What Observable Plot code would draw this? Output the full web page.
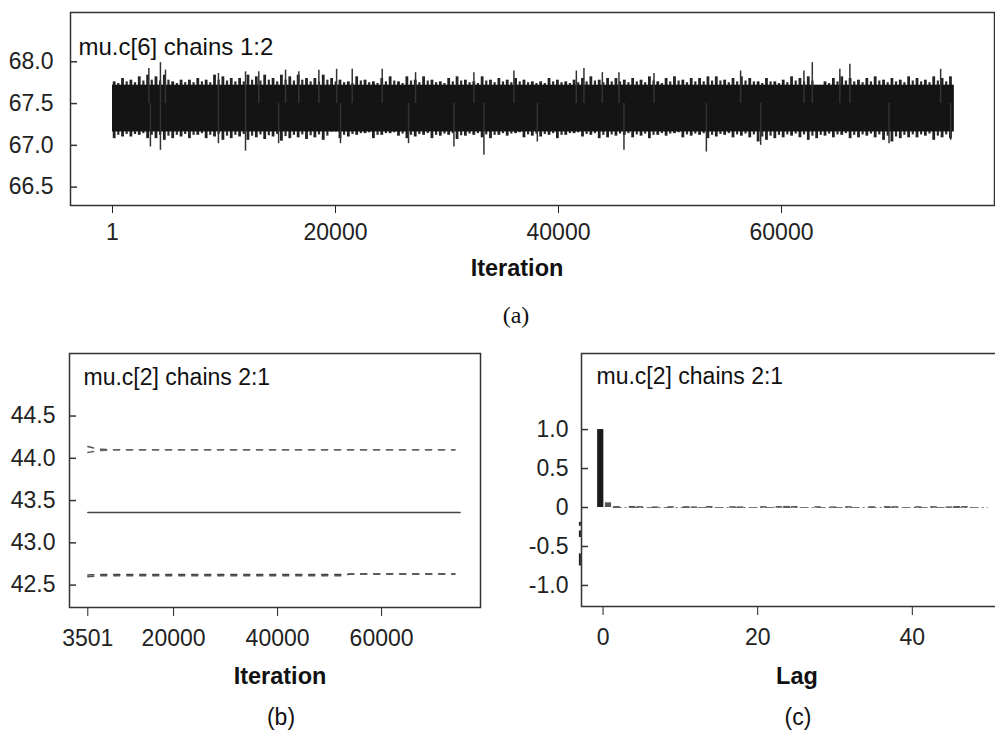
<!DOCTYPE html>
<html><head><meta charset="utf-8">
<script src="https://cdn.jsdelivr.net/npm/d3@7"></script>
<script src="https://cdn.jsdelivr.net/npm/@observablehq/plot@0.6"></script>
<style>
html,body{margin:0;padding:0;background:#fff;overflow:hidden;}
#root{position:relative;width:995px;height:735px;overflow:hidden;font-family:"Liberation Sans",Arial,sans-serif;color:#111;}
.panel{position:absolute;}
.panel svg{max-width:none !important;}
.lbl{position:absolute;transform:translate(-50%,-50%);white-space:nowrap;line-height:1;}
.bold{font-weight:bold;font-size:23.5px;}
.cap{font-size:23px;}
.serif{font-family:"Liberation Serif","DejaVu Serif",serif;font-size:24px;}
</style></head><body><div id="root"></div>
<script>
// ---------------- DATA ----------------
// (a) trace of mu.c[6], chains 1:2 — envelope per bin of 750 iterations
const traceBinStarts = d3.range(0, 75001, 750);
const traceLastIteration = 75500;
const traceUpper = [
  67.76,67.80,67.78,67.82,67.84,67.82,67.84,67.76,67.78,67.78,67.80,67.78,67.84,67.82,67.80,67.80,67.84,67.82,67.84,67.80,67.84,67.82,67.84,67.80,67.80,67.84,
  67.80,67.78,67.76,67.82,67.78,67.76,67.80,67.82,67.76,67.82,67.78,67.82,67.78,67.76,67.80,67.82,67.78,67.76,67.82,67.78,67.80,67.78,67.80,67.78,67.76,
  67.76,67.80,67.78,67.76,67.78,67.80,67.82,67.78,67.80,67.80,67.78,67.80,67.78,67.82,67.76,67.80,67.82,67.78,67.80,67.80,67.82,67.82,67.78,67.80,67.82,67.80,
  67.76,67.80,67.76,67.78,67.82,67.80,67.82,67.70,67.76,67.80,67.82,67.80,67.78,67.80,67.82,67.78,67.80,67.78,67.82,67.80,67.78,67.82,67.80,67.82
];
const traceLower = [
  67.08,67.10,67.10,67.12,67.08,67.08,67.06,67.08,67.10,67.08,67.12,67.08,67.10,67.06,67.08,67.10,67.06,67.09,67.07,67.10,67.05,67.08,67.09,67.07,67.09,67.06,
  67.16,67.08,67.10,67.12,67.14,67.08,67.12,67.14,67.11,67.08,67.10,67.12,67.08,67.11,67.12,67.07,67.11,67.12,67.09,67.08,67.12,67.11,67.14,67.09,67.11,
  67.10,67.12,67.08,67.12,67.14,67.10,67.12,67.08,67.09,67.11,67.12,67.09,67.11,67.08,67.12,67.11,67.14,67.09,67.11,67.12,67.08,67.10,67.12,67.09,67.11,67.09,
  67.04,67.06,67.08,67.09,67.11,67.09,67.06,67.08,67.11,67.09,67.12,67.08,67.09,67.11,67.09,67.06,67.04,67.08,67.09,67.09,67.11,67.06,67.09,67.08
];
// dense core of the trace (solid black region)
const traceCoreLow = 67.16, traceCoreHigh = 67.72;
const spikeUpIter = [3260,4300,4750,9500,11930,13120,15520,16710,18510,20100,21500,24190,27180,32410,36000,41600,42280,43930,45420,48560,56330,62010,62760,65230,66130,74270];
const spikeUpVal  = [67.92,67.99,67.90,67.86,67.88,67.88,67.90,67.88,67.90,67.91,67.91,67.91,67.87,67.87,67.89,67.89,67.92,67.87,67.87,67.86,67.89,67.89,67.99,67.91,67.97,67.91];
const spikeDnIter = [3400,4300,9500,11930,14900,20450,26550,30620,33310,38100,45870,53260,58130,69640,75170];
const spikeDnVal  = [66.98,66.94,67.02,66.93,67.02,67.02,67.02,66.98,66.88,67.04,66.94,66.92,67.00,67.02,67.06];
const aTicksX = [1, 20000, 40000, 60000];
const aTicksY = [66.5, 67.0, 67.5, 68.0];

// (b) quantile traces of mu.c[2], chains 2:1
const bIter       = [3501, 5500, 8000, 52000, 54000, 74100];
const bUpperC1    = [44.14, 44.11, 44.10, 44.10, 44.10, 44.10];
const bUpperC2    = [44.07, 44.09, 44.10, 44.10, 44.10, 44.10];
const bLowerC1    = [42.62, 42.625, 42.625, 42.625, 42.63, 42.63];
const bLowerC2    = [42.60, 42.61, 42.61, 42.61, 42.63, 42.63];
const bMedianIter = [3501, 75100];
const bMedian     = [43.36, 43.36];
const bTicksX = [3501, 20000, 40000, 60000];
const bTicksY = [42.5, 43.0, 43.5, 44.0, 44.5];

// (c) autocorrelation of mu.c[2], chains 2:1, lags 0..50
const cLags = d3.range(0, 51);
const cAcf = [1.0, 0.06, 0.004, 0.0, 0.006, 0.003, 0.0, -0.003, 0.0, 0.002,
  0.0, 0.003, -0.002, 0.0, 0.005, 0.0, 0.0, 0.002, -0.003, 0.0,
  0.0, 0.003, 0.0, 0.004, 0.006, 0.005, 0.0, 0.0, 0.002, 0.0,
  -0.002, 0.0, 0.003, 0.0, 0.0, 0.002, 0.0, 0.004, 0.003, 0.0,
  0.0, 0.002, 0.0, 0.003, 0.0, -0.002, 0.005, 0.004, 0.0, 0.0, 0.0];
const cLeftMarks = [[-0.19, -0.24], [-0.30, -0.385], [-0.595, -0.75]];
const cTicksX = [0, 20, 40];
const cTicksY = [-1.0, -0.5, 0, 0.5, 1.0];

const titleA = "mu.c[6] chains 1:2";
const titleB = "mu.c[2] chains 2:1";
const titleC = "mu.c[2] chains 2:1";

// ---------------- DRAW ----------------
const FONT = '"Liberation Sans", Arial, sans-serif';
const root = document.getElementById("root");
function place(node, left, top, w, h) {
  const d = document.createElement("div");
  d.className = "panel"; d.style.left = left + "px"; d.style.top = top + "px";
  d.style.width = w + "px"; d.style.height = h + "px";
  node.style.maxWidth = "none";
  d.appendChild(node); root.appendChild(d);
}
function label(text, cx, cy, cls) {
  const d = document.createElement("div");
  d.className = "lbl " + cls; d.textContent = text;
  d.style.left = cx + "px"; d.style.top = cy + "px"; root.appendChild(d);
}
// inward tick end, in data units, from a pixel length
function inward(domain, plotWidth, px) { return domain[0] + (domain[1] - domain[0]) * px / plotWidth; }
const baseStyle = {fontFamily: FONT, fontSize: "23px", color: "#222", background: "transparent", overflow: "visible", maxWidth: "none"};
const fmt1 = d => d === 0 ? "0" : d.toFixed(1).replace("\u2212", "-");

// ---- (a)
{
  const W = 995, H = 245, mL = 70, mR = 1, mT = 12, mB = 40;
  const xd = [-3766, 79100], yd = [66.28, 68.59];
  const bins = traceBinStarts.map((s, i) => ({s, lo: traceLower[i], hi: traceUpper[i]}));
  const ups = spikeUpIter.map((x, i) => ({x, v: spikeUpVal[i]}));
  const dns = spikeDnIter.map((x, i) => ({x, v: spikeDnVal[i]}));
  const p = Plot.plot({
    width: W, height: H, marginLeft: mL, marginRight: mR, marginTop: mT, marginBottom: mB,
    style: baseStyle,
    x: {domain: xd, ticks: aTicksX, tickFormat: d => String(d), tickSize: 8, tickPadding: 10, label: null},
    y: {domain: yd, ticks: aTicksY, tickFormat: d => d.toFixed(1), tickSize: 0, tickPadding: 17, label: null},
    marks: [
      // fringe: per-bin extremes as thin vertical strokes
      Plot.ruleX(bins, {x: d => d.s + 150, y1: "lo", y2: "hi", stroke: "#222", strokeWidth: 2.8}),
      Plot.ruleX(bins.slice(0, -1), {x: d => d.s + 520, y1: d => (d.lo + traceCoreLow) / 2, y2: d => (d.hi + traceCoreHigh) / 2, stroke: "#2a2a2a", strokeWidth: 2.2}),
      // dense core
      Plot.rect([{x1: traceBinStarts[0], x2: traceLastIteration}], {x1: "x1", x2: "x2", y1: traceCoreLow, y2: traceCoreHigh, fill: "#141414"}),
      Plot.ruleX(ups, {x: "x", y1: 67.5, y2: "v", stroke: "#333", strokeWidth: 1.5}),
      Plot.ruleX(dns, {x: "x", y1: 67.5, y2: "v", stroke: "#333", strokeWidth: 1.5}),
      Plot.ruleY(aTicksY, {x1: xd[0], x2: inward(xd, W - mL - mR, 7), stroke: "#333", strokeWidth: 1.5}),
      Plot.frame({stroke: "#333", strokeWidth: 1.5}),
      Plot.text([titleA], {frameAnchor: "top-left", textAnchor: "start", lineAnchor: "middle", dx: 8, dy: 35, fontSize: 24, fill: "#111"})
    ]
  });
  place(p, 0, 0, W, H);
  label("Iteration", 517, 269, "bold");
  label("(a)", 516, 315, "serif");
}

// ---- (b)
{
  const W = 500, H = 310, mL = 69, mR = 20, mT = 23, mB = 33;
  const xd = [-18, 79020], yd = [42.235, 45.24];
  const mk = arr => bIter.map((x, i) => ({x, v: arr[i]}));
  const p = Plot.plot({
    width: W, height: H, marginLeft: mL, marginRight: mR, marginTop: mT, marginBottom: mB,
    style: baseStyle,
    x: {domain: xd, ticks: bTicksX, tickFormat: d => String(d), tickSize: 9, tickPadding: 13, label: null},
    y: {domain: yd, ticks: bTicksY, tickFormat: d => d.toFixed(1), tickSize: 0, tickPadding: 14, label: null},
    marks: [
      Plot.line(bMedianIter.map((x, i) => ({x, v: bMedian[i]})), {x: "x", y: "v", stroke: "#444", strokeWidth: 1.5}),
      Plot.line(mk(bUpperC1), {x: "x", y: "v", stroke: "#555", strokeWidth: 1.5, strokeDasharray: "6,7"}),
      Plot.line(mk(bUpperC2), {x: "x", y: "v", stroke: "#666", strokeWidth: 1.5, strokeDasharray: "6,7"}),
      Plot.line(mk(bLowerC1), {x: "x", y: "v", stroke: "#444", strokeWidth: 1.5, strokeDasharray: "6,7"}),
      Plot.line(mk(bLowerC2), {x: "x", y: "v", stroke: "#555", strokeWidth: 1.5, strokeDasharray: "6,7"}),
      Plot.ruleY(bTicksY, {x1: xd[0], x2: inward(xd, W - mL - mR, 7), stroke: "#333", strokeWidth: 1.5}),
      Plot.frame({stroke: "#333", strokeWidth: 1.5}),
      Plot.text([titleB], {frameAnchor: "top-left", textAnchor: "start", lineAnchor: "middle", dx: 14, dy: 24, fontSize: 23, fill: "#111"})
    ]
  });
  place(p, 0, 330, W, H);
  label("Iteration", 280, 677, "bold");
  label("(b)", 281, 717, "cap");
}

// ---- (c)
{
  const W = 520, H = 310, mL = 81, mR = 10, mT = 23, mB = 34;
  const xd = [-2.79, 52.7], yd = [-1.27, 1.976];
  const acf = cLags.map((lag, i) => ({lag, v: cAcf[i]}));
  const p = Plot.plot({
    width: W, height: H, marginLeft: mL, marginRight: mR, marginTop: mT, marginBottom: mB,
    style: baseStyle,
    x: {domain: xd, ticks: cTicksX, tickFormat: d => String(d), tickSize: 9, tickPadding: 13, label: null},
    y: {domain: yd, ticks: cTicksY, tickFormat: fmt1, tickSize: 0, tickPadding: 13, label: null},
    marks: [
      Plot.ruleY([0], {x1: 1.3, x2: 49.8, stroke: "#777", strokeWidth: 1.2, strokeDasharray: "9,3,2,3"}),
      Plot.rect(acf.filter(d => d.lag >= 2), {x1: d => d.lag - 0.55, x2: d => d.lag + 0.15, y1: 0, y2: "v", fill: "#555", stroke: "#555", strokeWidth: 1.2}),
      Plot.rect(acf.filter(d => d.lag < 2), {x1: d => d.lag - 0.7, x2: d => d.lag + 0.1, y1: 0, y2: "v", fill: d => d.lag === 0 ? "#1a1a1a" : "#555"}),
      Plot.ruleX(cLeftMarks, {x: -3.0, y1: d => d[0], y2: d => d[1], stroke: "#222", strokeWidth: 2}),
      Plot.ruleY(cTicksY, {x1: xd[0], x2: inward(xd, W - mL - mR, 7), stroke: "#333", strokeWidth: 1.5}),
      Plot.frame({stroke: "#333", strokeWidth: 1.5}),
      Plot.text([titleC], {frameAnchor: "top-left", textAnchor: "start", lineAnchor: "middle", dx: 15, dy: 23, fontSize: 23, fill: "#111"})
    ]
  });
  place(p, 500, 330, W, H);
  label("Lag", 797, 677, "bold");
  label("(c)", 798, 717, "cap");
}
</script></body></html>
